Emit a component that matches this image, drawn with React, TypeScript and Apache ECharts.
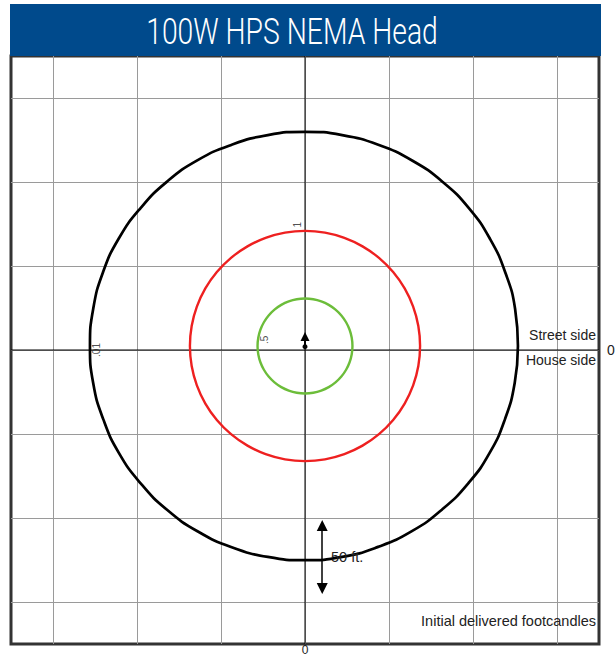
import React, { useEffect, useRef } from 'react';
import * as echarts from 'echarts';

const TITLE = '100W HPS NEMA Head';
const EXTENT = 35; // half size of the plot box (ft)
const STEP = 5;
const AXIS_TICK_LABELS = ['0'];

// isofootcandle contours: radius (ft) per direction (deg, counter-clockwise from east)
const ANGLES = [0, 10, 20, 30, 40, 50, 60, 70, 80, 90, 100, 110, 120, 130, 140, 150, 160, 170,
  180, 190, 200, 210, 220, 230, 240, 250, 260, 270, 280, 290, 300, 310, 320, 330, 340, 350];
const R_001 = [25.35, 25.4, 25.4, 25.45, 25.5, 25.5, 25.5, 25.5, 25.5, 25.5, 25.5, 25.5, 25.55, 25.55, 25.55, 25.6, 25.6, 25.6,
  25.6, 25.6, 25.55, 25.55, 25.5, 25.5, 25.5, 25.5, 25.5, 25.5, 25.5, 25.45, 25.45, 25.4, 25.4, 25.4, 25.35, 25.35];
const R_1 = [13.7, 13.7, 13.7, 13.7, 13.7, 13.7, 13.7, 13.7, 13.7, 13.7, 13.7, 13.7, 13.7, 13.7, 13.7, 13.7, 13.7, 13.7,
  13.7, 13.7, 13.7, 13.7, 13.7, 13.7, 13.7, 13.7, 13.7, 13.7, 13.7, 13.7, 13.7, 13.7, 13.7, 13.7, 13.7, 13.7];
const R_05 = [5.65, 5.65, 5.65, 5.65, 5.65, 5.65, 5.65, 5.65, 5.65, 5.65, 5.65, 5.65, 5.65, 5.65, 5.65, 5.65, 5.65, 5.65,
  5.65, 5.65, 5.65, 5.65, 5.65, 5.65, 5.65, 5.65, 5.65, 5.65, 5.65, 5.65, 5.65, 5.65, 5.65, 5.65, 5.65, 5.65];

const CONTOUR_NAMES = ['.01', '1', '.5'];
const CONTOUR_COLORS = ['#000000', '#ee2020', '#6cbd3a'];
const CONTOUR_LABEL_AT = [[-24.8, 0], [-0.95, 14.9], [-4.8, 1.2]];

function ring(radii: number[]) {
  const pts = ANGLES.map((a, i) => [radii[i], a]);
  pts.push([radii[0], 360]);
  return pts;
}

export default function App() {
  const ref = useRef<HTMLDivElement>(null);
  useEffect(() => {
    if (!ref.current) return;
    const chart = echarts.init(ref.current, undefined, { renderer: 'svg' });
    const hiddenLine = { show: false, onZero: false };
    const font = 'Liberation Sans, Arial, sans-serif';
    const rings = [R_001, R_1, R_05];
    chart.setOption({
      animation: false,
      grid: {
        left: 11, right: 17, top: 56, bottom: 12,
        outerBoundsMode: 'none', containLabel: false,
        show: true, borderColor: '#333', borderWidth: 3, backgroundColor: '#fff',
      },
      xAxis: {
        type: 'value', min: -EXTENT, max: EXTENT, interval: STEP,
        axisLine: hiddenLine, axisTick: { show: false },
        axisLabel: {
          margin: 0, color: '#222', fontSize: 12, fontFamily: font,
          formatter: (v: number) => (v === 0 ? AXIS_TICK_LABELS[0] : ''),
        },
        splitLine: { show: true, lineStyle: { color: ['rgba(0,0,0,0)', '#9a9a9a'], width: 1 } },
      },
      yAxis: {
        type: 'value', position: 'right', min: -EXTENT, max: EXTENT, interval: STEP,
        axisLine: hiddenLine, axisTick: { show: false },
        axisLabel: {
          margin: 8, color: '#222', fontSize: 14, fontFamily: font,
          formatter: (v: number) => (v === 0 ? AXIS_TICK_LABELS[0] : ''),
        },
        splitLine: { show: true, lineStyle: { color: ['rgba(0,0,0,0)', '#9a9a9a'], width: 1 } },
      },
      polar: { center: [305, 346], radius: 294 },
      radiusAxis: {
        type: 'value', min: 0, max: EXTENT, show: false,
        axisLine: { show: false }, splitLine: { show: false }, axisLabel: { show: false }, axisTick: { show: false },
      },
      angleAxis: {
        type: 'value', min: 0, max: 360, startAngle: 0, clockwise: false, show: false,
        axisLine: { show: false }, splitLine: { show: false }, axisLabel: { show: false }, axisTick: { show: false },
      },
      series: [
        {
          type: 'line', data: [[-EXTENT, 0], [EXTENT, 0]], symbol: 'none',
          lineStyle: { color: '#000', width: 1 }, z: 3,
        },
        {
          type: 'line', data: [[0, -EXTENT], [0, EXTENT]], symbol: 'none',
          lineStyle: { color: '#000', width: 1 }, z: 3,
        },
        ...rings.map((r, i) => ({
          type: 'line', coordinateSystem: 'polar', data: ring(r), symbol: 'none', smooth: 0.5,
          lineStyle: { color: CONTOUR_COLORS[i], width: i === 0 ? 2.7 : 2.4 }, z: 4,
        })),
        {
          type: 'scatter', symbolSize: 1, itemStyle: { color: 'rgba(0,0,0,0)' }, z: 6,
          data: CONTOUR_NAMES.map((n, i) => ({ value: CONTOUR_LABEL_AT[i], name: n })),
          label: {
            show: true, position: 'inside', rotate: 90, formatter: '{b}',
            fontSize: 10, color: '#222', fontFamily: font,
          },
        },
        {
          type: 'lines', coordinateSystem: 'cartesian2d', z: 7,
          symbol: ['circle', 'triangle'], symbolSize: [5, 9],
          lineStyle: { color: '#000', width: 2, opacity: 1 },
          data: [{ coords: [[0, 0.4], [0, 1.6]] }],
        },
        {
          type: 'lines', coordinateSystem: 'cartesian2d', z: 7,
          symbol: ['triangle', 'triangle'], symbolSize: [11, 11],
          lineStyle: { color: '#000', width: 1.5, opacity: 1 },
          data: [{ coords: [[2.05, -20.9], [2.05, -28.4]] }],
        },
      ],
      graphic: [
        { type: 'rect', shape: { x: 10, y: 4, width: 591, height: 52 }, style: { fill: '#004a8c' }, z: 10 },
        {
          type: 'text', x: 292, y: 31, scaleX: 0.765, z: 11,
          style: {
            text: TITLE, fill: '#fff', fontSize: 37, fontWeight: 300, fontFamily: 'Roboto, Liberation Sans, sans-serif',
            align: 'center', verticalAlign: 'middle',
          },
        },
        {
          type: 'text', x: 596, y: 335, z: 11,
          style: { text: 'Street side', fill: '#222', fontSize: 14, fontFamily: font, align: 'right', verticalAlign: 'middle' },
        },
        {
          type: 'text', x: 596, y: 360, z: 11,
          style: { text: 'House side', fill: '#222', fontSize: 14, fontFamily: font, align: 'right', verticalAlign: 'middle' },
        },
        {
          type: 'text', x: 596, y: 621, z: 11,
          style: { text: 'Initial delivered footcandles', fill: '#222', fontSize: 14.5, fontFamily: font, align: 'right', verticalAlign: 'middle' },
        },
        {
          type: 'text', x: 331, y: 557, z: 11,
          style: { text: '50 ft.', fill: '#222', fontSize: 14.5, fontFamily: font, align: 'left', verticalAlign: 'middle' },
        },
      ],
    });
    return () => chart.dispose();
  }, []);
  return <div ref={ref} style={{ position: 'fixed', left: 0, top: 0, width: 616, height: 656, background: '#fff' }} />;
}
